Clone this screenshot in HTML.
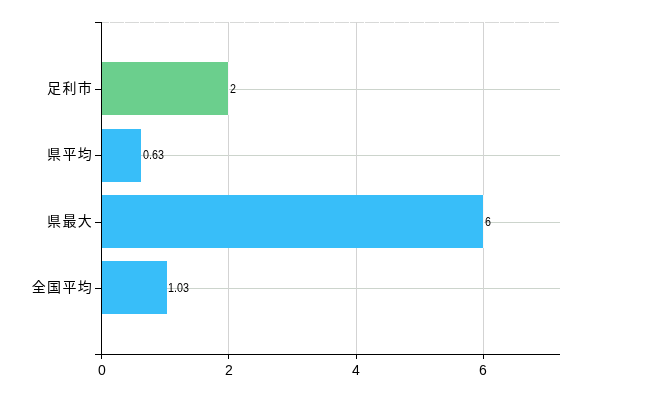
<!DOCTYPE html>
<html lang="ja">
<head>
<meta charset="utf-8">
<title>グラフ</title>
<style>
html,body{margin:0;padding:0;background:#fff;}
body{width:650px;height:400px;position:relative;overflow:hidden;font-family:"Liberation Sans","Noto Sans CJK JP",sans-serif;color:#000;}
.a{position:absolute;}
.gh{position:absolute;left:102px;width:458px;height:1px;background:#ccd4cc;}
.gv{position:absolute;top:22px;width:1px;height:332px;background:#d3d3d3;}
.bar{position:absolute;left:102px;height:53px;background:#38bef9;}
.tk{position:absolute;background:#000;}
.cat{position:absolute;right:557px;width:120px;text-align:right;font-size:14px;line-height:20px;height:20px;white-space:nowrap;letter-spacing:1.3px;color:#000;}
.val{position:absolute;font-size:12.5px;line-height:14px;height:14px;white-space:nowrap;transform:scaleX(0.86);transform-origin:0 50%;color:#000;}
.xl{position:absolute;top:361px;width:40px;text-align:center;font-size:14px;line-height:18px;}
</style>
</head>
<body>
<!-- grid -->
<div class="gh" style="top:22px;background:#d8d9d8 linear-gradient(to right,#d8d9d8 0,#d8d9d8 7px,#fff 7px,#fff 8px,#d8d9d8 8px,#d8d9d8 15px) 0 0/15px 1px repeat-x"></div>
<div class="gh" style="top:89px"></div>
<div class="gh" style="top:155px"></div>
<div class="gh" style="top:222px"></div>
<div class="gh" style="top:288px"></div>
<div class="gv" style="left:228px"></div>
<div class="gv" style="left:356px"></div>
<div class="gv" style="left:483px"></div>
<!-- bars -->
<div class="bar" style="top:62px;width:126px;background:#6bcf8d;box-shadow:1px 0 0 #fbf3fb"></div>
<div class="bar" style="top:129px;width:39px"></div>
<div class="bar" style="top:195px;width:381px;box-shadow:1px 0 0 #fbf7f3"></div>
<div class="bar" style="top:261px;width:65px"></div>
<!-- axes -->
<div class="tk" style="left:101px;top:22px;width:1px;height:337px"></div>
<div class="tk" style="left:95px;top:354px;width:465px;height:1px"></div>
<div class="tk" style="left:95px;top:22px;width:7px;height:1px"></div>
<div class="tk" style="left:95px;top:89px;width:7px;height:1px"></div>
<div class="tk" style="left:95px;top:155px;width:7px;height:1px"></div>
<div class="tk" style="left:95px;top:222px;width:7px;height:1px"></div>
<div class="tk" style="left:95px;top:288px;width:7px;height:1px"></div>
<div class="tk" style="left:228px;top:354px;width:1px;height:5px"></div>
<div class="tk" style="left:356px;top:354px;width:1px;height:5px"></div>
<div class="tk" style="left:483px;top:354px;width:1px;height:5px"></div>
<!-- category labels -->
<div class="cat" style="top:78px">足利市</div>
<div class="cat" style="top:144px">県平均</div>
<div class="cat" style="top:211px">県最大</div>
<div class="cat" style="top:277px">全国平均</div>
<!-- value labels -->
<div class="val" style="left:230px;top:82px">2</div>
<div class="val" style="left:143px;top:148px">0.63</div>
<div class="val" style="left:485px;top:215px">6</div>
<div class="val" style="left:168px;top:281px">1.03</div>
<!-- x labels -->
<div class="xl" style="left:82px">0</div>
<div class="xl" style="left:209px">2</div>
<div class="xl" style="left:336px">4</div>
<div class="xl" style="left:463px">6</div>
</body>
</html>
